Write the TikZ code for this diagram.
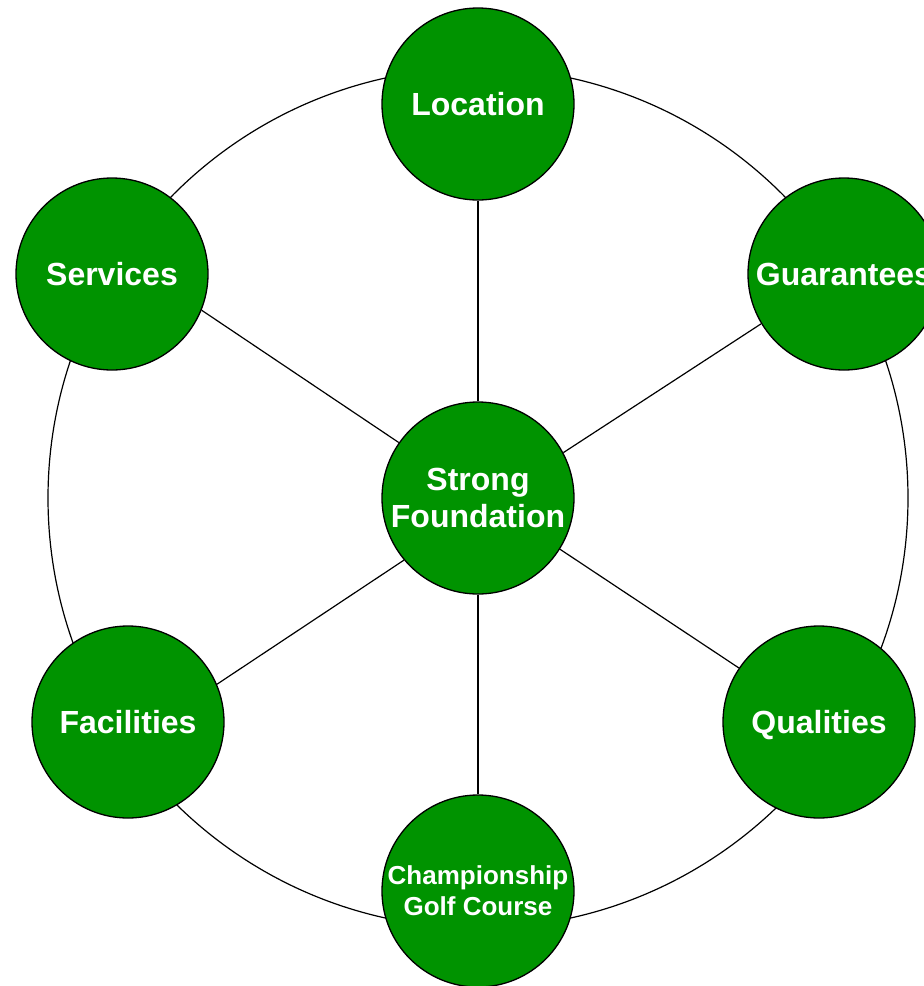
\documentclass[tikz,border=0pt]{standalone}
\usepackage{fontspec}
\setmainfont{Liberation Sans}
\definecolor{leaf}{RGB}{0,147,0}
\tikzset{
  hub/.style={circle, draw, line width=1.3pt, fill=leaf, text=white, minimum size=192pt,
    inner sep=0pt, text depth=0pt, align=center, font=\bfseries\fontsize{32}{37}\selectfont},
  spoke/.style={line width=1.2pt}
}
\begin{document}
\begin{tikzpicture}[x=1pt, y=-1pt]
    \useasboundingbox (0,0) rectangle (924,986);
    \draw[spoke](478,498) circle[radius=430];
    \node[hub] (found) at (478,498) {Strong\\Foundation};
    \node[hub] (loc) at (478,104) {Location};
    \node[hub] (guar) at (844,274) {Guarantees};
    \node[hub] (qual) at (819,722) {Qualities};
    \node[hub, font=\bfseries\fontsize{26}{31}\selectfont] (golf) at (478,891) {Championship\\Golf Course};
    \node[hub] (fac) at (128,722) {Facilities};
    \node[hub] (serv) at (112,274) {Services};
    \draw[spoke](found.90)--(loc.-90);
    \draw[spoke](found.28)--(guar.211);
    \draw[spoke](found.-32)--(qual.146);
    \draw[spoke](found.-90)--(golf.90);
    \draw[spoke](found.220)--(fac.23);
    \draw[spoke](found.145)--(serv.-22);
\end{tikzpicture}
\end{document}
